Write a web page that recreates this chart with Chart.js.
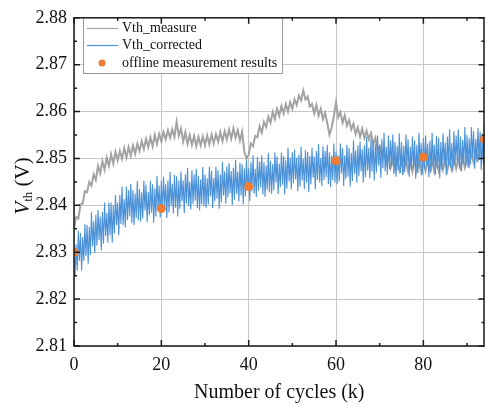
<!DOCTYPE html>
<html>
<head>
<meta charset="utf-8">
<script src="https://cdn.jsdelivr.net/npm/chart.js@4.4.0/dist/chart.umd.min.js"></script>
<style>
  html, body { margin: 0; padding: 0; background: #fff; }
</style>
</head>
<body>
<canvas id="chart_vth" width="489" height="407"></canvas>
<script>
// number of cycles (k) for the measured trace, every 0.5 k
const cycles = [
  0, 0.5, 1, 1.5, 2, 2.5, 3, 3.5, 4, 4.5,
  5, 5.5, 6, 6.5, 7, 7.5, 8, 8.5, 9, 9.5,
  10, 10.5, 11, 11.5, 12, 12.5, 13, 13.5, 14, 14.5,
  15, 15.5, 16, 16.5, 17, 17.5, 18, 18.5, 19, 19.5,
  20, 20.5, 21, 21.5, 22, 22.5, 23, 23.5, 24, 24.5,
  25, 25.5, 26, 26.5, 27, 27.5, 28, 28.5, 29, 29.5,
  30, 30.5, 31, 31.5, 32, 32.5, 33, 33.5, 34, 34.5,
  35, 35.5, 36, 36.5, 37, 37.5, 38, 38.5, 39, 39.5,
  40, 40.5, 41, 41.5, 42, 42.5, 43, 43.5, 44, 44.5,
  45, 45.5, 46, 46.5, 47, 47.5, 48, 48.5, 49, 49.5,
  50, 50.5, 51, 51.5, 52, 52.5, 53, 53.5, 54, 54.5,
  55, 55.5, 56, 56.5, 57, 57.5, 58, 58.5, 59, 59.5,
  60, 60.5, 61, 61.5, 62, 62.5, 63, 63.5, 64, 64.5,
  65, 65.5, 66, 66.5, 67, 67.5, 68, 68.5, 69, 69.5,
  70, 70.5, 71, 71.5, 72, 72.5, 73, 73.5, 74, 74.5,
  75, 75.5, 76, 76.5, 77, 77.5, 78, 78.5, 79, 79.5,
  80, 80.5, 81, 81.5, 82, 82.5, 83, 83.5, 84, 84.5,
  85, 85.5, 86, 86.5, 87, 87.5, 88, 88.5, 89, 89.5,
  90, 90.5, 91, 91.5, 92, 92.5, 93, 93.5, 94
]

// number of cycles (k) for the corrected trace, every 0.25 k
const cyclesFine = [
  0, 0.25, 0.5, 0.75, 1, 1.25, 1.5, 1.75, 2, 2.25, 2.5, 2.75, 3, 3.25, 3.5, 3.75, 4, 4.25, 4.5, 4.75,
  5, 5.25, 5.5, 5.75, 6, 6.25, 6.5, 6.75, 7, 7.25, 7.5, 7.75, 8, 8.25, 8.5, 8.75, 9, 9.25, 9.5, 9.75,
  10, 10.25, 10.5, 10.75, 11, 11.25, 11.5, 11.75, 12, 12.25, 12.5, 12.75, 13, 13.25, 13.5, 13.75, 14, 14.25, 14.5, 14.75,
  15, 15.25, 15.5, 15.75, 16, 16.25, 16.5, 16.75, 17, 17.25, 17.5, 17.75, 18, 18.25, 18.5, 18.75, 19, 19.25, 19.5, 19.75,
  20, 20.25, 20.5, 20.75, 21, 21.25, 21.5, 21.75, 22, 22.25, 22.5, 22.75, 23, 23.25, 23.5, 23.75, 24, 24.25, 24.5, 24.75,
  25, 25.25, 25.5, 25.75, 26, 26.25, 26.5, 26.75, 27, 27.25, 27.5, 27.75, 28, 28.25, 28.5, 28.75, 29, 29.25, 29.5, 29.75,
  30, 30.25, 30.5, 30.75, 31, 31.25, 31.5, 31.75, 32, 32.25, 32.5, 32.75, 33, 33.25, 33.5, 33.75, 34, 34.25, 34.5, 34.75,
  35, 35.25, 35.5, 35.75, 36, 36.25, 36.5, 36.75, 37, 37.25, 37.5, 37.75, 38, 38.25, 38.5, 38.75, 39, 39.25, 39.5, 39.75,
  40, 40.25, 40.5, 40.75, 41, 41.25, 41.5, 41.75, 42, 42.25, 42.5, 42.75, 43, 43.25, 43.5, 43.75, 44, 44.25, 44.5, 44.75,
  45, 45.25, 45.5, 45.75, 46, 46.25, 46.5, 46.75, 47, 47.25, 47.5, 47.75, 48, 48.25, 48.5, 48.75, 49, 49.25, 49.5, 49.75,
  50, 50.25, 50.5, 50.75, 51, 51.25, 51.5, 51.75, 52, 52.25, 52.5, 52.75, 53, 53.25, 53.5, 53.75, 54, 54.25, 54.5, 54.75,
  55, 55.25, 55.5, 55.75, 56, 56.25, 56.5, 56.75, 57, 57.25, 57.5, 57.75, 58, 58.25, 58.5, 58.75, 59, 59.25, 59.5, 59.75,
  60, 60.25, 60.5, 60.75, 61, 61.25, 61.5, 61.75, 62, 62.25, 62.5, 62.75, 63, 63.25, 63.5, 63.75, 64, 64.25, 64.5, 64.75,
  65, 65.25, 65.5, 65.75, 66, 66.25, 66.5, 66.75, 67, 67.25, 67.5, 67.75, 68, 68.25, 68.5, 68.75, 69, 69.25, 69.5, 69.75,
  70, 70.25, 70.5, 70.75, 71, 71.25, 71.5, 71.75, 72, 72.25, 72.5, 72.75, 73, 73.25, 73.5, 73.75, 74, 74.25, 74.5, 74.75,
  75, 75.25, 75.5, 75.75, 76, 76.25, 76.5, 76.75, 77, 77.25, 77.5, 77.75, 78, 78.25, 78.5, 78.75, 79, 79.25, 79.5, 79.75,
  80, 80.25, 80.5, 80.75, 81, 81.25, 81.5, 81.75, 82, 82.25, 82.5, 82.75, 83, 83.25, 83.5, 83.75, 84, 84.25, 84.5, 84.75,
  85, 85.25, 85.5, 85.75, 86, 86.25, 86.5, 86.75, 87, 87.25, 87.5, 87.75, 88, 88.25, 88.5, 88.75, 89, 89.25, 89.5, 89.75,
  90, 90.25, 90.5, 90.75, 91, 91.25, 91.5, 91.75, 92, 92.25, 92.5, 92.75, 93, 93.25, 93.5, 93.75, 94
]

const vthMeasure = [
  2.8350, 2.8375, 2.8372, 2.8402, 2.8404, 2.8430, 2.8428, 2.8450, 2.8442, 2.8466,
  2.8454, 2.8484, 2.8468, 2.8494, 2.8476, 2.8502, 2.8484, 2.8509, 2.8489, 2.8514,
  2.8496, 2.8516, 2.8499, 2.8522, 2.8502, 2.8524, 2.8506, 2.8528, 2.8510, 2.8531,
  2.8516, 2.8537, 2.8520, 2.8542, 2.8524, 2.8545, 2.8526, 2.8550, 2.8531, 2.8552,
  2.8536, 2.8556, 2.8541, 2.8560, 2.8544, 2.8562, 2.8546, 2.8578, 2.8548, 2.8564,
  2.8536, 2.8556, 2.8531, 2.8550, 2.8529, 2.8548, 2.8526, 2.8546, 2.8528, 2.8547,
  2.8528, 2.8549, 2.8530, 2.8551, 2.8532, 2.8552, 2.8536, 2.8556, 2.8537, 2.8558,
  2.8541, 2.8562, 2.8542, 2.8564, 2.8544, 2.8560, 2.8538, 2.8557, 2.8515, 2.8500,
  2.8508, 2.8532, 2.8526, 2.8548, 2.8545, 2.8569, 2.8555, 2.8578, 2.8567, 2.8589,
  2.8576, 2.8599, 2.8584, 2.8606, 2.8591, 2.8612, 2.8596, 2.8616, 2.8600, 2.8620,
  2.8606, 2.8626, 2.8614, 2.8634, 2.8624, 2.8645, 2.8626, 2.8632, 2.8611, 2.8616,
  2.8596, 2.8614, 2.8591, 2.8606, 2.8584, 2.8597, 2.8575, 2.8550, 2.8566, 2.8590,
  2.8620, 2.8588, 2.8599, 2.8576, 2.8592, 2.8570, 2.8582, 2.8562, 2.8574, 2.8552,
  2.8566, 2.8546, 2.8564, 2.8544, 2.8559, 2.8541, 2.8554, 2.8531, 2.8544, 2.8518,
  2.8526, 2.8503, 2.8512, 2.8490, 2.8504, 2.8480, 2.8498, 2.8476, 2.8496, 2.8475,
  2.8494, 2.8474, 2.8496, 2.8473, 2.8494, 2.8472, 2.8497, 2.8474, 2.8493, 2.8471,
  2.8495, 2.8473, 2.8494, 2.8475, 2.8496, 2.8472, 2.8492, 2.8474, 2.8495, 2.8476,
  2.8496, 2.8475, 2.8497, 2.8476, 2.8498, 2.8478, 2.8499, 2.8480, 2.8501, 2.8481,
  2.8502, 2.8486, 2.8509, 2.8492, 2.8514, 2.8498, 2.8520, 2.8506, 2.8526
]

const vthCorrected = [
  2.8320, 2.8250, 2.8317, 2.8261, 2.8346, 2.8282, 2.8341, 2.8261, 2.8332, 2.8282,
  2.8360, 2.8292, 2.8358, 2.8276, 2.8354, 2.8294, 2.8385, 2.8313, 2.8366, 2.8298,
  2.8380, 2.8314, 2.8390, 2.8326, 2.8376, 2.8304, 2.8386, 2.8318, 2.8406, 2.8334,
  2.8384, 2.8320, 2.8406, 2.8336, 2.8406, 2.8320, 2.8400, 2.8340, 2.8422, 2.8358,
  2.8406, 2.8336, 2.8422, 2.8360, 2.8440, 2.8358, 2.8413, 2.8353, 2.8440, 2.8368,
  2.8432, 2.8376, 2.8446, 2.8362, 2.8432, 2.8358, 2.8425, 2.8373, 2.8452, 2.8368,
  2.8435, 2.8365, 2.8428, 2.8372, 2.8453, 2.8389, 2.8444, 2.8364, 2.8429, 2.8379,
  2.8452, 2.8384, 2.8445, 2.8363, 2.8436, 2.8376, 2.8463, 2.8391, 2.8442, 2.8374,
  2.8453, 2.8387, 2.8461, 2.8397, 2.8445, 2.8373, 2.8453, 2.8385, 2.8471, 2.8399,
  2.8446, 2.8382, 2.8465, 2.8395, 2.8462, 2.8376, 2.8453, 2.8393, 2.8472, 2.8408,
  2.8453, 2.8383, 2.8466, 2.8404, 2.8480, 2.8398, 2.8451, 2.8391, 2.8475, 2.8403,
  2.8466, 2.8410, 2.8478, 2.8394, 2.8463, 2.8389, 2.8455, 2.8403, 2.8482, 2.8398,
  2.8465, 2.8395, 2.8458, 2.8402, 2.8483, 2.8419, 2.8474, 2.8394, 2.8459, 2.8409,
  2.8482, 2.8414, 2.8475, 2.8393, 2.8466, 2.8406, 2.8493, 2.8421, 2.8472, 2.8404,
  2.8483, 2.8417, 2.8490, 2.8426, 2.8473, 2.8401, 2.8480, 2.8412, 2.8497, 2.8425,
  2.8472, 2.8408, 2.8491, 2.8421, 2.8488, 2.8402, 2.8479, 2.8419, 2.8498, 2.8434,
  2.8479, 2.8409, 2.8492, 2.8430, 2.8507, 2.8425, 2.8478, 2.8418, 2.8503, 2.8431,
  2.8494, 2.8438, 2.8507, 2.8423, 2.8492, 2.8418, 2.8485, 2.8433, 2.8512, 2.8428,
  2.8495, 2.8425, 2.8488, 2.8432, 2.8513, 2.8449, 2.8504, 2.8424, 2.8489, 2.8439,
  2.8512, 2.8444, 2.8505, 2.8423, 2.8496, 2.8436, 2.8523, 2.8451, 2.8502, 2.8434,
  2.8513, 2.8447, 2.8519, 2.8455, 2.8502, 2.8430, 2.8508, 2.8440, 2.8525, 2.8453,
  2.8499, 2.8435, 2.8518, 2.8448, 2.8514, 2.8428, 2.8505, 2.8445, 2.8523, 2.8459,
  2.8504, 2.8434, 2.8516, 2.8454, 2.8531, 2.8449, 2.8501, 2.8441, 2.8526, 2.8454,
  2.8516, 2.8460, 2.8529, 2.8445, 2.8513, 2.8439, 2.8506, 2.8454, 2.8532, 2.8448,
  2.8515, 2.8445, 2.8507, 2.8451, 2.8532, 2.8468, 2.8522, 2.8442, 2.8507, 2.8457,
  2.8529, 2.8461, 2.8522, 2.8440, 2.8512, 2.8452, 2.8539, 2.8467, 2.8517, 2.8449,
  2.8528, 2.8462, 2.8536, 2.8472, 2.8520, 2.8448, 2.8528, 2.8460, 2.8546, 2.8474,
  2.8522, 2.8458, 2.8542, 2.8472, 2.8539, 2.8453, 2.8530, 2.8470, 2.8549, 2.8485,
  2.8529, 2.8459, 2.8541, 2.8479, 2.8555, 2.8473, 2.8525, 2.8465, 2.8549, 2.8477,
  2.8539, 2.8483, 2.8551, 2.8467, 2.8535, 2.8461, 2.8527, 2.8475, 2.8553, 2.8469,
  2.8535, 2.8465, 2.8527, 2.8471, 2.8551, 2.8487, 2.8541, 2.8461, 2.8525, 2.8475,
  2.8547, 2.8479, 2.8539, 2.8457, 2.8529, 2.8469, 2.8555, 2.8483, 2.8533, 2.8465,
  2.8543, 2.8477, 2.8549, 2.8485, 2.8532, 2.8460, 2.8538, 2.8470, 2.8555, 2.8483,
  2.8529, 2.8465, 2.8548, 2.8478, 2.8544, 2.8458, 2.8535, 2.8475, 2.8553, 2.8489,
  2.8534, 2.8464, 2.8547, 2.8485, 2.8562, 2.8480, 2.8533, 2.8473, 2.8558, 2.8486,
  2.8549, 2.8493, 2.8562, 2.8478, 2.8547, 2.8473, 2.8540, 2.8488, 2.8567, 2.8483,
  2.8550, 2.8480, 2.8543, 2.8487, 2.8567, 2.8503, 2.8558, 2.8478, 2.8542, 2.8492,
  2.8565, 2.8497, 2.8557, 2.8475, 2.8548, 2.8488, 2.8575
]

// offline measurement results
const offlineCycles = [0, 20, 40, 60, 80, 94]
const offlineVth = [2.8300, 2.8393, 2.8440, 2.8495, 2.8503, 2.8541]

const xMajor = [0, 20, 40, 60, 80]
const xMinor = [10, 30, 50, 70, 90]
const yMajor = [2.81, 2.82, 2.83, 2.84, 2.85, 2.86, 2.87, 2.88]
const yMinor = [2.815, 2.825, 2.835, 2.845, 2.855, 2.865, 2.875]

const SERIF = '"Liberation Serif", "Times New Roman", serif'
const colours = { measure: '#a3a3a3', corrected: '#4b91d8', offline: '#ee7d31' }

function toPoints(xs, ys) {
  return xs.map((x, i) => ({ x: x, y: ys[i] }))
}

// frame with inward ticks on all four sides, plus the y title
const framePlugin = {
  id: 'frame',
  afterDraw(chart) {
    const { ctx, chartArea: a, scales: { x, y } } = chart
    ctx.save()
    ctx.strokeStyle = '#1a1a1a'
    ctx.lineWidth = 1.5
    ctx.beginPath()
    function seg(x1, y1, x2, y2) { ctx.moveTo(x1, y1); ctx.lineTo(x2, y2) }
    xMajor.forEach(v => {
      const p = x.getPixelForValue(v)
      seg(p, a.bottom, p, a.bottom - 6); seg(p, a.top, p, a.top + 6)
    })
    xMinor.forEach(v => {
      const p = x.getPixelForValue(v)
      seg(p, a.bottom, p, a.bottom - 3); seg(p, a.top, p, a.top + 3)
    })
    yMajor.forEach(v => {
      const p = y.getPixelForValue(v)
      seg(a.left, p, a.left + 6, p); seg(a.right, p, a.right - 6, p)
    })
    yMinor.forEach(v => {
      const p = y.getPixelForValue(v)
      seg(a.left, p, a.left + 3, p); seg(a.right, p, a.right - 3, p)
    })
    ctx.stroke()
    ctx.strokeRect(a.left, a.top, a.right - a.left - 0.5, a.bottom - a.top)
    ctx.restore()

    // y axis title: V_th (V)
    ctx.save()
    ctx.translate(22, 186)
    ctx.rotate(-Math.PI / 2)
    ctx.fillStyle = '#111'
    ctx.textBaseline = 'alphabetic'
    const fV = 'italic 21px ' + SERIF, fSub = '13px ' + SERIF, fRest = '21px ' + SERIF
    ctx.font = fV; const wV = ctx.measureText('V').width
    ctx.font = fSub; const wS = ctx.measureText('th').width
    ctx.font = fRest; const wR = ctx.measureText(' (V)').width
    let cx = -(wV + wS + wR) / 2
    ctx.font = fV; ctx.fillText('V', cx, 7); cx += wV
    ctx.font = fSub; ctx.fillText('th', cx, 10); cx += wS
    ctx.font = fRest; ctx.fillText(' (V)', cx, 7)
    ctx.restore()
  }
}

// legend box inside the plot
const legendPlugin = {
  id: 'boxLegend',
  afterDatasetsDraw(chart) {
    const ctx = chart.ctx
    ctx.save()
    ctx.fillStyle = '#fff'
    ctx.fillRect(83, 17, 199, 56)
    ctx.strokeStyle = '#9a9a9a'
    ctx.lineWidth = 1
    ctx.strokeRect(83.5, 17.5, 199, 56)
    ctx.lineWidth = 1.2
    ctx.strokeStyle = colours.measure
    ctx.beginPath(); ctx.moveTo(87, 28.5); ctx.lineTo(118, 28.5); ctx.stroke()
    ctx.strokeStyle = colours.corrected
    ctx.beginPath(); ctx.moveTo(87, 45.5); ctx.lineTo(118, 45.5); ctx.stroke()
    ctx.fillStyle = colours.offline
    ctx.beginPath(); ctx.arc(102, 63, 3.5, 0, Math.PI * 2); ctx.fill()
    ctx.fillStyle = '#111'
    ctx.font = '14px ' + SERIF
    ctx.textBaseline = 'middle'
    ctx.fillText('Vth_measure', 122, 28)
    ctx.fillText('Vth_corrected', 122, 45)
    ctx.fillText('offline measurement results', 122, 63)
    ctx.restore()
  }
}

const ctx = document.getElementById('chart_vth').getContext('2d')
const chart_vth = new Chart(ctx, {
  type: 'line',
  data: {
    datasets: [
      {
        label: 'offline measurement results',
        type: 'scatter',
        data: toPoints(offlineCycles, offlineVth),
        backgroundColor: colours.offline,
        borderColor: colours.offline,
        pointRadius: 4.5,
        pointBorderWidth: 0,
        order: 0
      },
      {
        label: 'Vth_corrected',
        data: toPoints(cyclesFine, vthCorrected),
        borderColor: colours.corrected,
        borderWidth: 1.1,
        pointRadius: 0,
        tension: 0,
        order: 1
      },
      {
        label: 'Vth_measure',
        data: toPoints(cycles, vthMeasure),
        borderColor: colours.measure,
        borderWidth: 2,
        pointRadius: 0,
        tension: 0,
        order: 2
      }
    ]
  },
  options: {
    responsive: false,
    animation: false,
    devicePixelRatio: 1,
    layout: { padding: { top: 12, right: 0, left: 0, bottom: 0 } },
    plugins: { legend: { display: false }, tooltip: { enabled: false } },
    scales: {
      x: {
        type: 'linear',
        min: 0,
        max: 94,
        afterFit: s => { s.height = 61 },
        grid: { color: '#c6c6c6', lineWidth: 1, drawTicks: false },
        border: { display: false },
        ticks: {
          stepSize: 20,
          includeBounds: false,
          padding: 8,
          color: '#111',
          font: { family: SERIF, size: 18 },
          maxRotation: 0
        },
        title: {
          display: true,
          text: 'Number of cycles (k)',
          color: '#111',
          font: { family: SERIF, size: 20 },
          padding: { top: 0, bottom: 2 }
        }
      },
      y: {
        min: 2.81,
        max: 2.88,
        afterFit: s => { s.width = 74 },
        grid: { color: '#c6c6c6', lineWidth: 1, drawTicks: false },
        border: { display: false },
        ticks: {
          stepSize: 0.01,
          padding: 7,
          color: '#111',
          font: { family: SERIF, size: 18 },
          callback: v => v.toFixed(2)
        }
      }
    }
  },
  plugins: [legendPlugin, framePlugin]
})
</script>
</body>
</html>
